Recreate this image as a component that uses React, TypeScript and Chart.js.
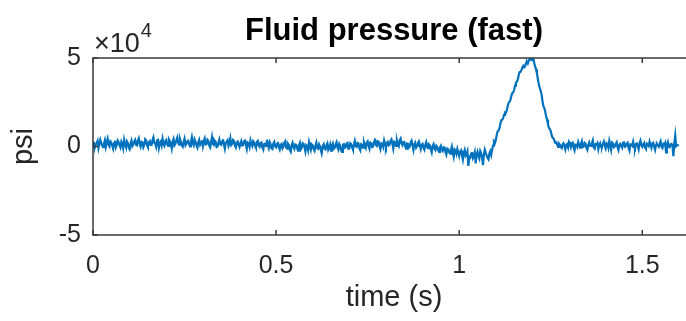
import React, { useEffect, useRef } from "react";
import { Chart, registerables } from "chart.js";

Chart.register(...registerables);

const chartTitle = "Fluid pressure (fast)";
const xAxisLabel = "time (s)";
const yAxisLabel = "psi";
const yExponentBase = "×10";
const yExponentPower = "4";

// sampling interval of the recorded trace (s)
const sampleStep = 0.0025;

// fluid pressure samples (psi)
const pressurePsi = [
  2700, 500, -500, 1200, 1900, 3200, -900, 1500, 3800, 2100, 400, -300, 1600, 3500, -200, 2300, 4400, 1100, 100, 2900,
  2200, 400, -1300, 1800, 3300, -400, 1000, 3400, 2500, 600, -600, 2700, 1600, -900, 3700, 1200, -200, 3000, 2100, -700,
  -1500, 1700, 3300, 200, 1200, 2900, 3800, 1000, 700, 3300, 4600, 1400, -100, 2600, 2200, -400, 1000, 4100, 3500, 800,
  -300, 2400, 3000, 900, 800, 3600, 5100, 2000, 1600, -200, 3300, 4400, -700, 1800, 2700, 600, 4300, 1500, 400, 3100,
  3700, 1200, 300, 3900, 2900, 1600, -1100, 2800, 4200, 600, 1500, 3400, 5000, 2200, 1000, 4300, 2600, 700, -100, 2500,
  4400, 700, 1600, 3000, 3300, 1200, 0, 2600, 5200, 1900, 700, 4000, 2700, 500, -700, 2400, 3800, 1000, 2100, 3600,
  200, 2900, 4500, 1100, 1300, 3800, 3200, 600, -500, 2400, 5300, 1500, 900, 3300, 2700, -300, 0, 2000, 3900, 1300,
  900, 2700, 4100, 1300, -1200, 2100, 2600, 3500, 400, 1900, 4600, 800, 1500, 3700, 3200, 600, -500, 2300, 2800, 1000,
  -300, 1900, 3100, 600, 800, 2800, 4000, 1100, -1400, 2200, 1800, -200, 3400, 1300, 200, 3000, 2300, 400, -700, 2500,
  3100, 600, -200, 2000, 2300, -500, -1700, 1400, 1500, 300, 3800, 900, -800, 2500, 1300, -1000, -1400, 1800, 2600, 0,
  -500, 1300, 2600, -300, -1700, 900, 1400, -1000, 0, 2200, 3000, -600, -1200, 1600, 800, -1800, -2900, 700, 2100, -200,
  -1300, 1100, 900, -900, -2400, 600, 2000, -1500, -600, 1900, 1500, -400, -2800, 800, 300, -2000, 2400, 300, -1700, 1200,
  700, -1500, -2500, 400, 2200, -900, -1300, 1200, 0, -2100, -3400, 300, 1300, -1100, -1600, 700, 1800, -1900, -800, 1000,
  -2400, 600, 1700, -1300, -800, 1100, 2400, -500, -1700, 1500, 500, -2200, -3000, 900, 1300, -700, -400, 1600, 2000, -1200,
  -1100, 1800, 1300, -400, -1800, 1000, 3100, 200, -200, 2000, 1700, -900, -2100, 1300, 900, -600, 2400, 700, -700, 2200,
  2900, 500, -1200, 2200, 1800, -300, 0, 2600, 4500, 1000, 400, 3000, 2700, 200, -1500, 1900, 1600, -100, 3400, 1400,
  -300, 2100, 2600, 600, 1000, 3200, 4000, 1500, -1200, 2700, 2300, 400, 3300, 1100, 200, 3500, 4500, 1800, 700, 2400,
  2600, 300, -1200, 1700, 1500, -600, 0, 2400, 3300, 700, -1900, 1200, 2200, -500, 500, 2000, 2900, 800, -1400, 1000,
  1500, -700, -1800, 800, 2400, -300, -900, 1200, 700, -1500, -3300, 200, 1300, -1000, -1900, 500, -100, -2200, -3000, -600,
  400, -1800, -2500, -500, -600, -2900, -4500, -1200, -1500, -3100, -4000, -2000, -100, -3600, -5800, -1700, -2400, -4200, -1400, -3300,
  -5400, -3000, -2200, -4800, -7400, -3600, -2000, -5200, -4300, -2700, -11000, -5900, -6300, -4100, -3100, -6600, -5600, -3400, -9500, -4600,
  -3000, -5500, -6800, -2600, -3900, -6100, -10500, -4400, -1800, -3600, -5000, -6300, -7200, -4000, -2700, -4800,
  -1800, 500, 2800, 2000, 3600, 6500, 8600, 9000, 10200, 12900, 14800, 15100, 16000, 17900, 19200, 19000, 20400, 22800, 24700, 25200,
  26300, 28600, 30200, 30600, 31900, 34400, 36100, 36700, 37800, 40300, 42000, 42200, 43000, 44700, 45600, 44800, 45300, 47100, 47900, 46900,
  48400, 49700, 50300, 48800, 49000, 49900, 47200, 45100, 43600, 41200, 38000, 35100, 33100, 31600, 29400, 25700, 22800, 21700, 19600, 17000,
  15200, 12600, 10600, 9900, 8700, 6400, 5000, 4600, 3400, 2100, 2300, 1200, -200, 1600, 900, -300,
  -900, 1200, 1800, 200, -1700, 900, 1400, -400, 2600, 1500, -300, 1900, 2200, -600, -2100, 1100, 1000, -200, 2500, 700,
  -600, 1600, 3000, -300, 0, 2100, 1600, -800, -1900, 1000, 2300, 400, 300, 1700, 3400, -500, -1200, 1300, 1100, 2000,
  -1500, 900, 1900, -200, -300, 1400, 2800, 600, -1000, 1800, 1300, -700, 3200, 1000, -1800, 2200, 1700, -400, 100, 1500,
  2400, -500, -2000, 1100, 1500, 300, -700, 1900, 2900, -100, 200, 1600, 2100, -800, -2300, 1300, 1200, 500, 2600, -300,
  -1100, 1400, 1700, 200, -1600, 1800, 3300, 800, -200, 1200, 2000, -500, -1300, 1600, 1100, 300, 2800, 1000, -700, 1900,
  2200, -300, -1900, 1000, 1500, 600, -100, 1700, 3000, -200, -900, 1400, 900, 2000, -3400, 700, 2400, -100, -400, 1300,
  1400, 500, -5500, 1900, 6200, 200, 800, 1100,
];

const xTickValues = [0, 0.5, 1, 1.5];
const xTickLabels = ["0", "0.5", "1", "1.5"];
const yTickValues = [-50000, 0, 50000];
const yTickLabels = ["-5", "0", "5"];
const xRange = [0, 1.644];
const yRange = [-50000, 50000];

const FONT = "'Liberation Sans', Arial, Helvetica, sans-serif";
const TEXT_COLOR = "#262626";
const AXIS_COLOR = "#3a3a3a";
const LINE_COLOR = "#0072BD";

const CANVAS_W = 700;
const CANVAS_H = 321;

const decorPlugin = {
  id: "matlabDecor",
  afterDraw(chart: any) {
    const { ctx, chartArea: a, scales } = chart;
    ctx.save();
    ctx.strokeStyle = AXIS_COLOR;
    ctx.lineWidth = 1.5;
    ctx.beginPath();
    ctx.rect(a.left, a.top, a.right - a.left, a.bottom - a.top);
    ctx.stroke();
    const tl = 5;
    ctx.beginPath();
    xTickValues.forEach((v) => {
      const px = scales.x.getPixelForValue(v);
      ctx.moveTo(px, a.bottom);
      ctx.lineTo(px, a.bottom - tl);
      ctx.moveTo(px, a.top);
      ctx.lineTo(px, a.top + tl);
    });
    yTickValues.forEach((v) => {
      const py = scales.y.getPixelForValue(v);
      ctx.moveTo(a.left, py);
      ctx.lineTo(a.left + tl, py);
      ctx.moveTo(a.right, py);
      ctx.lineTo(a.right - tl, py);
    });
    ctx.stroke();

    ctx.fillStyle = "#000";
    ctx.font = `bold 31px ${FONT}`;
    ctx.textAlign = "center";
    ctx.textBaseline = "alphabetic";
    ctx.fillText(chartTitle, (a.left + a.right) / 2, 40);

    ctx.fillStyle = TEXT_COLOR;
    ctx.textAlign = "left";
    ctx.font = `27px ${FONT}`;
    ctx.fillText(yExponentBase, a.left + 1, 52);
    const w = ctx.measureText(yExponentBase).width;
    ctx.font = `20px ${FONT}`;
    ctx.fillText(yExponentPower, a.left + 2 + w, 37);
    ctx.restore();
  },
};

export default function App() {
  const ref = useRef<HTMLCanvasElement | null>(null);

  useEffect(() => {
    if (!ref.current) return;
    const points = pressurePsi.map((p, i) => ({ x: i * sampleStep, y: p }));
    const chart = new Chart(ref.current, {
      type: "line",
      data: {
        datasets: [
          {
            data: points,
            borderColor: LINE_COLOR,
            borderWidth: 2.2,
            pointRadius: 0,
            tension: 0,
            fill: false,
          },
        ],
      },
      options: {
        animation: false,
        responsive: false,
        maintainAspectRatio: false,
        devicePixelRatio: 1,
        layout: { padding: { left: 0, right: CANVAS_W - 695, top: 58, bottom: 0 } },
        plugins: {
          legend: { display: false },
          tooltip: { enabled: false },
          title: { display: false },
        },
        scales: {
          x: {
            type: "linear",
            min: xRange[0],
            max: xRange[1],
            afterBuildTicks: (s: any) => {
              s.ticks = xTickValues.map((v) => ({ value: v }));
            },
            afterFit: (s: any) => {
              s.height = CANVAS_H - 235;
            },
            grid: { display: false, drawTicks: false },
            border: { display: false },
            ticks: {
              color: TEXT_COLOR,
              font: { family: FONT, size: 25 },
              padding: 16,
              maxRotation: 0,
              autoSkip: false,
              callback: (_v: any, i: number) => xTickLabels[i],
            },
            title: {
              display: true,
              text: xAxisLabel,
              color: TEXT_COLOR,
              font: { family: FONT, size: 29 },
              padding: { top: 0, bottom: 6 },
            },
          },
          y: {
            type: "linear",
            min: yRange[0],
            max: yRange[1],
            afterBuildTicks: (s: any) => {
              s.ticks = yTickValues.map((v) => ({ value: v }));
            },
            afterFit: (s: any) => {
              s.width = 93;
            },
            grid: { display: false, drawTicks: false },
            border: { display: false },
            ticks: {
              color: TEXT_COLOR,
              font: { family: FONT, size: 25 },
              padding: 12,
              autoSkip: false,
              callback: (_v: any, i: number) => yTickLabels[i],
            },
            title: {
              display: true,
              text: yAxisLabel,
              color: TEXT_COLOR,
              font: { family: FONT, size: 29 },
              padding: { top: 7, bottom: 0 },
            },
          },
        },
      },
      plugins: [decorPlugin],
    });
    return () => chart.destroy();
  }, []);

  return (
    <div
      style={{
        position: "fixed",
        left: 0,
        top: 0,
        width: 686,
        height: 321,
        overflow: "hidden",
        background: "#fff",
      }}
    >
      <canvas ref={ref} width={CANVAS_W} height={CANVAS_H} style={{ display: "block" }} />
    </div>
  );
}
